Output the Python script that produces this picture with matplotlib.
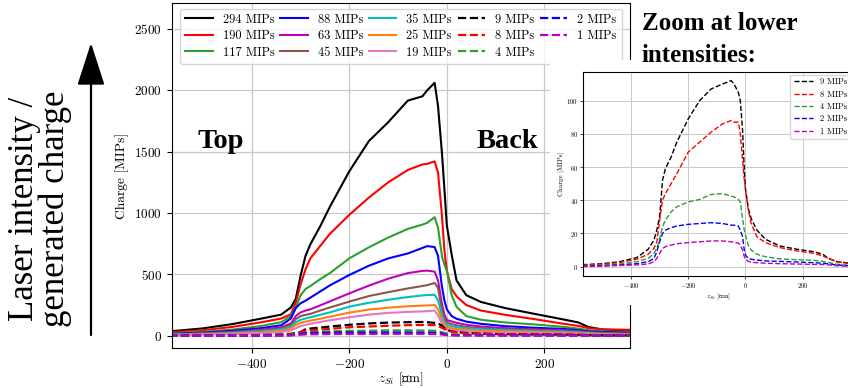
import matplotlib
matplotlib.use("Agg")
import matplotlib.pyplot as plt
from matplotlib.patches import Rectangle, FancyArrowPatch

plt.rcParams.update({"font.family": ["cmr10", "DejaVu Serif"], "mathtext.fontset": "cm",
                     "axes.formatter.use_mathtext": True})

# z positions [um] and charge [MIPs]
Z_UM = [-570, -500, -440, -380, -340, -320, -310, -300, -290, -280, -260, -240, -200, -160, -120, -80, -50,
        -40, -25, -18, -10, -5, 0, 10, 20, 40, 70, 120, 180, 240, 270, 290, 320, 380]
Q294 = [35, 60, 95, 140, 172, 230, 300, 490, 650, 745, 890, 1050, 1340, 1585, 1740, 1915, 1950,
        2000, 2060, 1870, 1490, 1200, 900, 660, 450, 330, 275, 225, 178, 132, 108, 72, 50, 40]
Q190 = [28, 45, 72, 110, 140, 175, 270, 420, 540, 630, 730, 830, 985, 1125, 1250, 1350, 1395,
        1400, 1420, 1330, 980, 700, 530, 380, 320, 250, 205, 170, 135, 97, 80, 62, 52, 48]
Q117 = [20, 32, 50, 80, 110, 160, 230, 330, 380, 405, 460, 510, 630, 720, 800, 870, 905,
        920, 965, 880, 650, 580, 530, 330, 235, 160, 130, 108, 92, 72, 58, 45, 35, 27]
Q88 = [15, 25, 40, 62, 85, 140, 225, 265, 285, 310, 360, 410, 495, 570, 630, 670, 715,
       730, 722, 650, 400, 290, 215, 160, 138, 115, 97, 78, 65, 55, 45, 36, 30, 22]
Q63 = [12, 20, 32, 50, 68, 100, 160, 190, 205, 215, 247, 280, 345, 408, 465, 510, 528,
       530, 522, 450, 260, 175, 128, 117, 105, 89, 75, 62, 52, 45, 38, 30, 22, 16]
Q45 = [10, 17, 27, 42, 58, 85, 135, 160, 170, 178, 205, 230, 278, 323, 355, 385, 405,
       412, 430, 390, 210, 140, 110, 95, 85, 72, 62, 52, 45, 38, 32, 26, 20, 14]
Q35 = [8, 14, 22, 35, 50, 72, 110, 130, 140, 150, 170, 190, 237, 268, 293, 315, 328,
       332, 333, 290, 165, 115, 90, 78, 70, 60, 52, 44, 38, 32, 27, 22, 17, 12]
Q25 = [6, 11, 17, 27, 40, 58, 88, 105, 115, 123, 138, 155, 188, 213, 228, 240, 245,
       247, 250, 215, 130, 95, 72, 62, 55, 47, 41, 35, 30, 25, 21, 17, 13, 9]
Q19 = [5, 8, 13, 20, 30, 42, 62, 78, 88, 97, 112, 126, 150, 172, 186, 194, 198,
       200, 205, 165, 100, 72, 55, 48, 42, 36, 31, 27, 23, 19, 16, 13, 10, 7]
Q9 = [1.2, 1.8, 3.0, 5.5, 10.5, 16, 22, 30, 52, 59, 66, 75, 89, 100, 107, 110, 112,
      110, 105, 100, 82, 62, 47, 35, 29, 22, 16.5, 12.5, 10.5, 9, 7.5, 5, 3, 1.8]
Q8 = [1.0, 1.5, 2.5, 4.5, 7.5, 11, 15, 28, 40, 44, 50, 56, 69, 75, 81, 86, 88,
      87, 87, 80, 64, 54, 47, 34, 26, 18, 14.5, 11.5, 9.5, 8, 6.5, 5, 3, 1.5]
Q4 = [0.6, 1.0, 1.6, 3, 5, 8, 11, 17, 24, 28, 33, 36, 39, 40.5, 43.5, 44, 42.5,
      42, 40.5, 39, 29, 23, 19, 13, 10, 7.5, 6, 4.7, 4.2, 3.8, 3.2, 2.5, 1.5, 0.6]
Q2 = [0.3, 0.6, 1.0, 1.8, 3, 5, 9, 15, 20, 22, 23.5, 24.5, 25.5, 26, 26.5, 26, 25,
      25, 24.5, 22, 18, 11, 7, 5, 4.5, 4, 3.5, 3.2, 2.8, 2.4, 2.1, 1.7, 1.0, 0.3]
Q1 = [0.1, 0.4, 0.7, 1.1, 1.6, 3, 5, 8, 11, 12, 13, 13.8, 14.5, 15, 15.5, 15.5, 15,
      14.5, 14.3, 13, 10, 6.5, 4.5, 3.2, 2.7, 2.4, 2.1, 1.8, 1.6, 1.4, 1.3, 1.1, 0.6, 0.1]

SOLID = [("294 MIPs", Q294, "k"), ("190 MIPs", Q190, "r"), ("117 MIPs", Q117, "tab:green"),
         ("88 MIPs", Q88, "b"), ("63 MIPs", Q63, "m"), ("45 MIPs", Q45, "tab:brown"),
         ("35 MIPs", Q35, "c"), ("25 MIPs", Q25, "tab:orange"), ("19 MIPs", Q19, "tab:pink")]
DASHED = [("9 MIPs", Q9, "k"), ("8 MIPs", Q8, "r"), ("4 MIPs", Q4, "tab:green"),
          ("2 MIPs", Q2, "b"), ("1 MIPs", Q1, "m")]
ZLABEL = "$z_{Si}$ [\u03bcm]"

W, H = 848, 388
fx = lambda px: px / W
fy = lambda py: 1 - py / H

fig = plt.figure(figsize=(W / 100, H / 100), dpi=100)

# main panel
ax = fig.add_axes([fx(172), fy(348), (630 - 172) / W, (348 - 3) / H])
for lab, q, c in SOLID:
    ax.plot(Z_UM, q, color=c, lw=1.5, label=lab)
for lab, q, c in DASHED:
    ax.plot(Z_UM, q, color=c, lw=1.6, ls="--", label=lab)
ax.set_xlim(-564, 376); ax.set_ylim(-100, 2710)
ax.set_xticks([-400, -200, 0, 200]); ax.set_yticks([0, 500, 1000, 1500, 2000, 2500])
ax.grid(True, color="#c8c8c8", lw=0.9)
ax.tick_params(labelsize=9.5)
ax.set_xlabel(ZLABEL, fontsize=9.5, labelpad=0)
ax.set_ylabel("Charge [MIPs]", fontsize=9.8, labelpad=4)
ax.legend(loc="upper center", ncol=5, fontsize=8.9, columnspacing=0.5, handletextpad=0.8,
          handlelength=2.2, borderaxespad=0.45, labelspacing=0.36)

# white cut-out where the zoom panel is pasted
fig.add_artist(Rectangle((fx(550), fy(305)), (W - 550) / W, (305 - 60) / H, transform=fig.transFigure,
                         facecolor="white", edgecolor="none", zorder=5))

# zoom panel
axi = fig.add_axes([fx(583), fy(276), (853 - 583) / W, (276 - 72) / H], zorder=10)
for lab, q, c in DASHED:
    axi.plot(Z_UM, q, color=c, lw=1.0, ls="--", label=lab)
axi.set_xlim(-568, 376); axi.set_ylim(-5.6, 117.2)
axi.set_xticks([-400, -200, 0, 200]); axi.set_yticks([0, 20, 40, 60, 80, 100])
axi.grid(True, color="#c8c8c8", lw=0.7)
axi.tick_params(labelsize=4.8, length=2, width=0.5, pad=1.5)
for s in axi.spines.values():
    s.set_linewidth(0.8)
axi.set_xlabel(ZLABEL, fontsize=5, labelpad=1)
axi.set_ylabel("Charge [MIPs]", fontsize=5, labelpad=2)
axi.legend(loc="upper right", fontsize=6.2, handlelength=2.2, labelspacing=0.45, borderaxespad=0.3)

# annotations
tf = dict(family="Liberation Serif", fontweight="bold", fontsize=20.5, va="baseline", zorder=11)
fig.text(fx(197), fy(147.5), "Top", **tf)
fig.text(fx(477), fy(147.5), "Back", **tf)
zf = dict(family="Liberation Serif", fontweight="bold", fontsize=18, va="baseline", zorder=11)
fig.text(fx(642), fy(30.5), "Zoom at lower", **zf)
fig.text(fx(642), fy(61.5), "intensities:", **zf)

lf = dict(family="Liberation Serif", fontsize=25, rotation=90, rotation_mode="anchor",
          ha="center", va="baseline")
fig.text(fx(33.5), fy(209), "Laser intensity /", **lf)
fig.text(fx(64), fy(209), "generated charge", **lf)

# upward arrow (display pixels, origin bottom-left)
fig.add_artist(FancyArrowPatch(
    (91, H - 335), (91, H - 43), transform=None, arrowstyle="-|>,head_length=1.33,head_width=0.43",
    mutation_scale=20, lw=1.6, color="k", shrinkA=0, shrinkB=0))

fig.savefig("out.png", dpi=100)
